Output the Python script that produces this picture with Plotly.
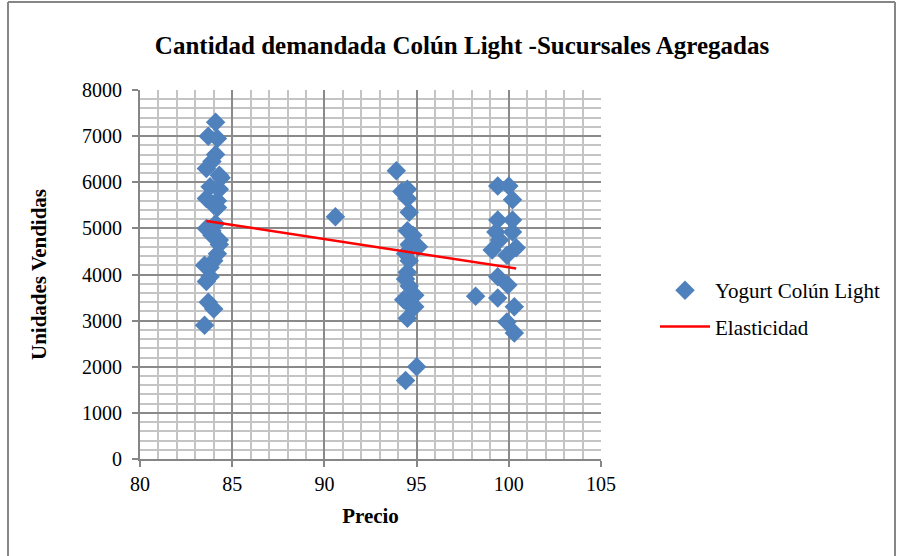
import plotly.graph_objects as go

# Yogurt Colún Light observations (Precio, Unidades Vendidas)
precio = [
    84.1, 83.7, 84.2, 84.1, 83.9, 83.6, 84.3, 84.4, 83.8, 84.3, 83.6, 84.2,
    84.0, 84.2, 84.1, 83.6, 83.9, 84.3, 84.3, 83.9, 84.2, 84.0, 83.5, 83.8,
    83.8, 83.6, 83.7, 84.0, 83.5,
    90.6,
    93.9, 94.2, 94.5, 94.5, 94.6, 94.5, 94.8, 94.6, 95.1, 94.4, 94.6, 94.5,
    94.4, 94.6, 94.9, 94.3, 94.6, 94.9, 94.5, 95.0, 94.4,
    98.2,
    99.4, 100.0, 100.2, 99.4, 100.2, 99.3, 100.2, 99.5, 99.1, 100.4, 99.9,
    99.4, 99.95, 99.4, 100.3, 99.9, 100.3,
]
unidades = [
    7300, 7000, 6950, 6600, 6450, 6300, 6150, 6100, 5900, 5850, 5650, 5600,
    5500, 5450, 5100, 5000, 4950, 4750, 4650, 4850, 4450, 4300, 4200, 4150,
    3950, 3850, 3400, 3250, 2900,
    5250,
    6250, 5800, 5850, 5650, 5350, 4950, 4850, 4650, 4600, 4450, 4300, 4050,
    3900, 3750, 3550, 3450, 3350, 3300, 3050, 2000, 1700,
    3530,
    5920, 5920, 5620, 5180, 5180, 4920, 4920, 4750, 4530, 4580, 4420,
    3950, 3770, 3490, 3300, 2970, 2730,
]

# Elasticidad (trend line)
linea_x = [83.6, 100.4]
linea_y = [5160, 4130]

font_family = "Liberation Serif, Times New Roman, serif"

fig = go.Figure()
fig.add_trace(go.Scatter(
    x=precio, y=unidades, mode="markers", name="Yogurt Colún Light",
    marker=dict(symbol="diamond", size=15, color="#4F81BD"),
    legendgroup="a",
))
fig.add_trace(go.Scatter(
    x=linea_x, y=linea_y, mode="lines", name="Elasticidad",
    line=dict(color="#FF0000", width=2.5),
    legendgroup="b",
))

W, H = 902, 556
L, R, T, B = 140, 301, 90, 97
pw, ph = W - L - R, H - T - B

def px(xp):
    return (xp - L) / pw

def py(yp):
    return (H - B - yp) / ph

fig.update_layout(
    width=W, height=H,
    margin=dict(l=L, r=R, t=T, b=B, pad=0),
    paper_bgcolor="white", plot_bgcolor="white",
    font=dict(family=font_family, size=20, color="black"),
    title=dict(
        text="<b>Cantidad demandada Colún Light -Sucursales Agregadas</b>",
        x=462 / W, xref="container", xanchor="center",
        y=1 - 45 / H, yref="container", yanchor="middle",
        font=dict(family=font_family, size=25, color="black"),
    ),
    showlegend=True,
    legend=dict(
        x=px(655), y=py(270), xanchor="left", yanchor="top",
        font=dict(family=font_family, size=21, color="black"),
        bgcolor="rgba(0,0,0,0)", tracegroupgap=6,
        itemwidth=50,
    ),
    shapes=[
        dict(type="line", xref="paper", yref="paper",
             x0=px(8), x1=px(8), y0=py(2), y1=py(600),
             line=dict(color="#868686", width=2)),
        dict(type="line", xref="paper", yref="paper",
             x0=px(8), x1=px(895), y0=py(2), y1=py(2),
             line=dict(color="#868686", width=2)),
        dict(type="line", xref="paper", yref="paper",
             x0=px(895), x1=px(895), y0=py(2), y1=py(600),
             line=dict(color="#868686", width=2)),
    ],
)

fig.update_xaxes(
    range=[80, 105], dtick=5, tick0=80,
    showgrid=True, gridcolor="#8a8a8a", gridwidth=2,
    minor=dict(dtick=1, showgrid=True, gridcolor="#c4c4c4", gridwidth=2),
    showline=True, linecolor="#868686", linewidth=2, mirror=False,
    ticks="outside", ticklen=6, tickcolor="#868686", tickwidth=2,
    zeroline=False,
    tickfont=dict(family=font_family, size=20, color="black"),
    title=dict(text="<b>Precio</b>", standoff=14,
               font=dict(family=font_family, size=21, color="black")),
)
fig.update_yaxes(
    range=[0, 8000], dtick=1000,
    showgrid=True, gridcolor="#8a8a8a", gridwidth=2,
    minor=dict(dtick=200, showgrid=True, gridcolor="#c4c4c4", gridwidth=2),
    showline=True, linecolor="#868686", linewidth=2,
    ticks="outside", ticklen=6, tickcolor="#868686", tickwidth=2,
    ticklabelstandoff=6,
    zeroline=False,
    tickfont=dict(family=font_family, size=20, color="black"),
    title=dict(text="<b>Unidades Vendidas</b>", standoff=30,
               font=dict(family=font_family, size=21, color="black")),
)

fig.write_html("out.html")
